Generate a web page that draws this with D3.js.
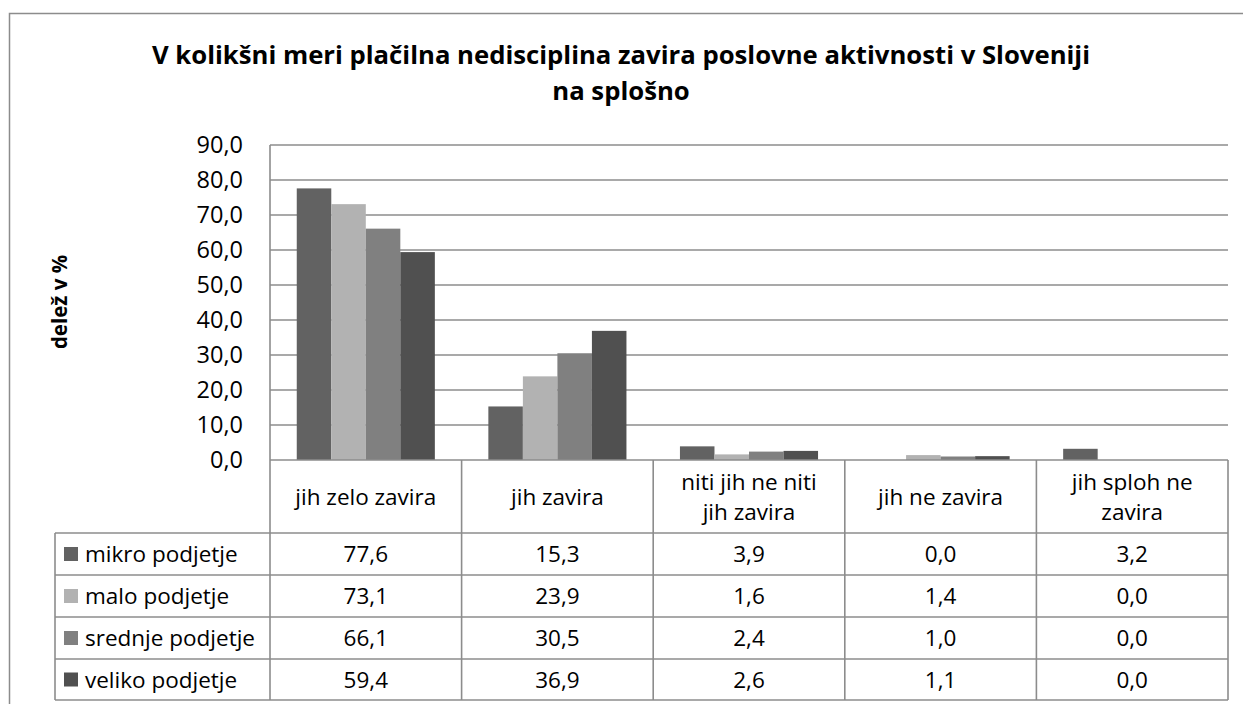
<!DOCTYPE html>
<html><head><meta charset="utf-8">
<script src="https://cdn.jsdelivr.net/npm/d3@7"></script>
<style>body{margin:0;background:#fff}svg{display:block}</style>
</head><body>
<svg id="c" width="1243" height="704"></svg>
<script>
const categories = [["jih zelo zavira"],["jih zavira"],["niti jih ne niti","jih zavira"],["jih ne zavira"],["jih sploh ne","zavira"]];
const seriesNames = ["mikro podjetje","malo podjetje","srednje podjetje","veliko podjetje"];
const mikro = [77.6,15.3,3.9,0.0,3.2];
const malo = [73.1,23.9,1.6,1.4,0.0];
const srednje = [66.1,30.5,2.4,1.0,0.0];
const veliko = [59.4,36.9,2.6,1.1,0.0];
const colors = ["#626262","#b2b2b2","#808080","#505050"];
const yTicks = [0,10,20,30,40,50,60,70,80,90];
const titleLines = ["V kolikšni meri plačilna nedisciplina zavira poslovne aktivnosti v Sloveniji","na splošno"];
const yTitle = "delež v %";

const series = [mikro,malo,srednje,veliko];
const font = "'Open Sans', sans-serif";
const svg = d3.select("#c");
const fmt = v => v.toFixed(1).replace(".", ",");

svg.append("rect").attr("x",9.5).attr("y",13.5).attr("width",1250).attr("height",700)
  .attr("fill","#fff").attr("stroke","#8c8c8c").attr("stroke-width",1.5);

const L=270, R=1228, T=145, B=460;
const x = d3.scaleBand().domain(d3.range(categories.length)).range([L,R]).paddingInner(0).paddingOuter(0);
const y = d3.scaleLinear().domain([0,90]).range([B,T]);
const cw = x.bandwidth();
const bw = cw/(4+1.55);
const xs = d3.scaleBand().domain(d3.range(4)).range([0,4*bw]);

// title
svg.selectAll("text.title").data(titleLines).enter().append("text")
  .attr("x",621).attr("y",(d,i)=>64+i*36).attr("text-anchor","middle")
  .attr("font-family",font).attr("font-weight","bold").attr("font-size",25.7).attr("fill","#000").text(d=>d);

// gridlines
svg.append("g").selectAll("line").data(yTicks.filter(t=>t>0)).enter().append("line")
  .attr("x1",L).attr("x2",R).attr("y1",d=>y(d)).attr("y2",d=>y(d))
  .attr("stroke","#8c8c8c").attr("stroke-width",1.6);
svg.append("line").attr("x1",L).attr("x2",L).attr("y1",T).attr("y2",B).attr("stroke","#8c8c8c").attr("stroke-width",1.6);

// tick labels
const ax = svg.append("g").attr("transform",`translate(${L},0)`)
  .call(d3.axisLeft(y).tickValues(yTicks).tickFormat(fmt).tickSize(0).tickPadding(27));
ax.select(".domain").remove();
ax.selectAll("text").attr("font-family",font).attr("font-size",23.5).attr("fill","#000");

// y title
svg.append("text").attr("transform","translate(67,302) rotate(-90)").attr("text-anchor","middle")
  .attr("font-family",font).attr("font-weight","bold").attr("font-size",20.5).attr("fill","#000").text(yTitle);

// bars
series.forEach((s,si)=>{
  svg.append("g").selectAll("rect").data(s).enter().append("rect")
    .attr("x",(d,i)=>x(i)+(cw-4*bw)/2+xs(si)).attr("width",bw)
    .attr("y",d=>y(d)).attr("height",d=>B-y(d)).attr("fill",colors[si]);
});

// data table
const rowY = [460,533,575,617,659,700];
const LL = 55;
const g = svg.append("g").attr("stroke","#8c8c8c").attr("stroke-width",1.6).attr("fill","none");
g.append("line").attr("x1",L).attr("x2",R).attr("y1",B).attr("y2",B);
rowY.slice(1).forEach(yy=>g.append("line").attr("x1",LL).attr("x2",R).attr("y1",yy).attr("y2",yy));
d3.range(categories.length+1).forEach(i=>{
  const xx = i<categories.length ? x(i) : R;
  g.append("line").attr("x1",xx).attr("x2",xx).attr("y1",B).attr("y2",rowY[5]);
});
g.append("line").attr("x1",LL).attr("x2",LL).attr("y1",rowY[1]).attr("y2",rowY[5]);

const fs = 22.5;
// header text
categories.forEach((lines,i)=>{
  const cx = x(i)+cw/2, cy=(rowY[0]+rowY[1])/2;
  lines.forEach((ln,j)=>{
    svg.append("text").attr("x",cx).attr("y",cy+8+(j-(lines.length-1)/2)*30)
      .attr("text-anchor","middle").attr("font-family",font).attr("font-size",fs).attr("fill","#000").text(ln);
  });
});
// rows
series.forEach((s,si)=>{
  const cy=(rowY[si+1]+rowY[si+2])/2;
  svg.append("rect").attr("x",64).attr("y",cy-7).attr("width",14).attr("height",14).attr("fill",colors[si]);
  svg.append("text").attr("x",85).attr("y",cy+8).attr("font-family",font).attr("font-size",fs).attr("fill","#000").text(seriesNames[si]);
  s.forEach((v,i)=>{
    svg.append("text").attr("x",x(i)+cw/2).attr("y",cy+8).attr("text-anchor","middle")
      .attr("font-family",font).attr("font-size",fs).attr("fill","#000").text(fmt(v));
  });
});
</script>
</body></html>
